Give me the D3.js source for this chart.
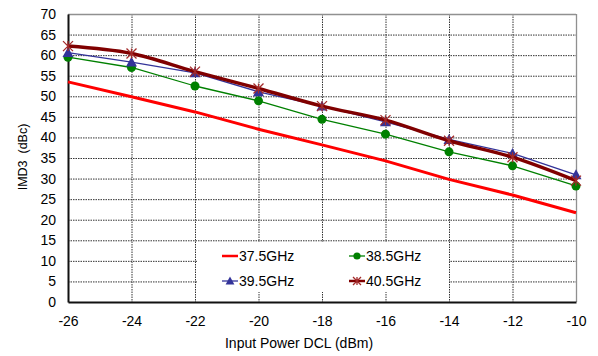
<!DOCTYPE html>
<html>
<head>
<meta charset="utf-8">
<script src="https://cdn.jsdelivr.net/npm/d3@7"></script>
<style>
  html, body { margin: 0; padding: 0; background: #fff; }
  svg { display: block; font-family: "Liberation Sans", Arial, sans-serif; }
</style>
</head>
<body>
<svg id="chart" width="598" height="356"></svg>
<script>
// Input power sweep (dBm)
const inputPower = [-26, -24, -22, -20, -18, -16, -14, -12, -10];

// IMD3 (dBc) per carrier frequency
const imd37_5 = [53.5, 49.9, 46.2, 42.0, 38.2, 34.3, 29.8, 26.0, 21.7];
const imd38_5 = [59.5, 57.0, 52.5, 48.9, 44.4, 40.8, 36.5, 33.1, 28.2];
const imd39_5 = [60.6, 58.3, 55.7, 51.1, 47.6, 43.8, 39.5, 36.1, 30.9];
const imd40_5 = [62.2, 60.4, 56.0, 51.9, 47.6, 44.2, 39.2, 35.2, 29.5];

const seriesNames = ["37.5GHz", "38.5GHz", "39.5GHz", "40.5GHz"];

const xTicks = [-26, -24, -22, -20, -18, -16, -14, -12, -10];
const yTicks = [0, 5, 10, 15, 20, 25, 30, 35, 40, 45, 50, 55, 60, 65, 70];

const svg = d3.select("#chart");
const plot = { left: 68, right: 576, top: 14, bottom: 302 };

const x = d3.scaleLinear().domain([-26, -10]).range([plot.left, plot.right]);
const y = d3.scaleLinear().domain([0, 70]).range([plot.bottom, plot.top]);

// Grid lines
const grid = svg.append("g");
grid.selectAll(".hg").data(yTicks.filter(t => t > 0 && t < 70)).join("line")
  .attr("x1", plot.left).attr("x2", plot.right)
  .attr("y1", d => y(d) + 0.5).attr("y2", d => y(d) + 0.5)
  .attr("stroke", "#333").attr("stroke-width", 1).attr("stroke-dasharray", "1.5,1");
grid.selectAll(".vg").data(xTicks.filter(t => t > -26 && t < -10)).join("line")
  .attr("y1", plot.top).attr("y2", plot.bottom)
  .attr("x1", d => x(d) + 0.5).attr("x2", d => x(d) + 0.5)
  .attr("stroke", "#333").attr("stroke-width", 1).attr("stroke-dasharray", "1.5,1");

// Frame: grey top/right, black left/bottom axes
svg.append("line").attr("x1", plot.left).attr("x2", plot.right)
  .attr("y1", plot.top + 0.5).attr("y2", plot.top + 0.5)
  .attr("stroke", "#909090").attr("stroke-width", 1.3);
svg.append("line").attr("x1", plot.right + 0.5).attr("x2", plot.right + 0.5)
  .attr("y1", plot.top).attr("y2", plot.bottom)
  .attr("stroke", "#909090").attr("stroke-width", 1.3);

// Legend background hides grid behind it
const legendBox = { x: 197, y: 242, w: 252, h: 50 };
svg.append("rect").attr("x", legendBox.x).attr("y", legendBox.y)
  .attr("width", legendBox.w).attr("height", legendBox.h).attr("fill", "#fff");

// Axes
const xAxis = svg.append("g").attr("transform", `translate(0,${plot.bottom})`)
  .call(d3.axisBottom(x).tickValues(xTicks).tickSize(0).tickPadding(14).tickFormat(d3.format("d")));
const yAxis = svg.append("g").attr("transform", `translate(${plot.left},0)`)
  .call(d3.axisLeft(y).tickValues(yTicks).tickSize(0).tickPadding(12));
[xAxis, yAxis].forEach(g => {
  g.select(".domain").attr("stroke", "#111").attr("stroke-width", 2);
  g.selectAll("text").attr("font-size", 14).attr("fill", "#000")
    .attr("font-family", "'Liberation Sans', Arial, sans-serif");
});
xAxis.selectAll("text").text(d => d < 0 ? "-" + Math.abs(d) : d);

// Axis titles
svg.append("text").attr("x", 299).attr("y", 348)
  .attr("text-anchor", "middle").attr("font-size", 14).text("Input Power DCL (dBm)");
svg.append("text").attr("transform", "translate(27,157) rotate(-90)")
  .attr("text-anchor", "middle").attr("font-size", 12.5).attr("xml:space", "preserve")
  .text("IMD3  (dBc)");

const series = [
  { name: seriesNames[0], values: imd37_5, color: "#ff0000", width: 3, marker: "none", curve: d3.curveLinear },
  { name: seriesNames[1], values: imd38_5, color: "#008000", width: 1.3, marker: "circle", mcolor: "#008000", curve: d3.curveLinear },
  { name: seriesNames[2], values: imd39_5, color: "#333399", width: 1.3, marker: "triangle", mcolor: "#333399", curve: d3.curveLinear },
  { name: seriesNames[3], values: imd40_5, color: "#800000", width: 3.5, marker: "star", mcolor: "#a32a2a", curve: d3.curveCatmullRom.alpha(0) }
];

function drawMarker(g, type, cx, cy, color, size) {
  if (type === "circle") {
    g.append("circle").attr("cx", cx).attr("cy", cy).attr("r", size * 0.9).attr("fill", color);
  } else if (type === "triangle") {
    const s = size * 1.1;
    g.append("path").attr("d", `M${cx},${cy - s}L${cx + s},${cy + s * 0.8}L${cx - s},${cy + s * 0.8}Z`).attr("fill", color);
  } else if (type === "star") {
    const s = size;
    g.append("path").attr("d",
      `M${cx - s},${cy - s}L${cx + s},${cy + s}M${cx - s},${cy + s}L${cx + s},${cy - s}M${cx},${cy - s}L${cx},${cy + s}`)
      .attr("stroke", color).attr("stroke-width", 1.3).attr("fill", "none");
  }
}

const marks = svg.append("g");
series.forEach(s => {
  const pts = inputPower.map((p, i) => [p, s.values[i]]);
  const line = d3.line().x(d => x(d[0])).y(d => y(d[1])).curve(s.curve);
  marks.append("path").datum(pts).attr("d", line)
    .attr("fill", "none").attr("stroke", s.color).attr("stroke-width", s.width)
    .attr("stroke-linejoin", "round");
  if (s.marker !== "none") {
    const mg = marks.append("g");
    pts.forEach(d => drawMarker(mg, s.marker, x(d[0]), y(d[1]), s.mcolor, 5));
  }
});

// Legend
const legendPos = [
  { lx: 222, ly: 256 }, { lx: 349, ly: 256 },
  { lx: 222, ly: 281 }, { lx: 349, ly: 281 }
];
series.forEach((s, i) => {
  const p = legendPos[i];
  const g = svg.append("g");
  g.append("line").attr("x1", p.lx).attr("x2", p.lx + 16).attr("y1", p.ly).attr("y2", p.ly)
    .attr("stroke", s.color).attr("stroke-width", Math.min(s.width, 2.5));
  if (s.marker !== "none") drawMarker(g, s.marker, p.lx + 8, p.ly, s.mcolor, 4);
  g.append("text").attr("x", p.lx + 17).attr("y", p.ly + 5)
    .attr("font-size", 14).text(s.name);
});
</script>
</body>
</html>
